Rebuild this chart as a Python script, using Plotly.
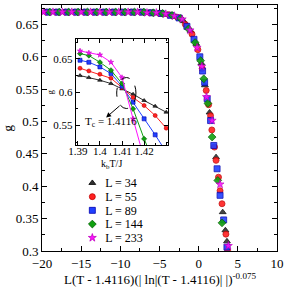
import plotly.graph_objects as go

# ---------------- data ----------------
L_values = [34, 55, 89, 144, 233]
colors = ["#303030", "#ff2020", "#2040ff", "#10a010", "#ff10ff"]
line_cols = ["#000000", "#c00000", "#0000b0", "#006000", "#c000c0"]
symbols = ["triangle-up", "circle", "square", "diamond", "star"]

# main (scaling collapse) data: x = L(T-Tc)(|ln|T-Tc||)^-0.075
x_L34 = [-19.6, -18.4, -17.2, -16.0, -14.8, -13.6, -12.4, -11.2, -10.0, -8.8, -7.6, -6.4, -5.2, -4.0,
         -2.9, -1.9, -1.0, -0.3, 0.35, 0.8, 1.39, 2.22, 3.07, 3.41, 3.61]
g_L34 = [0.669, 0.669, 0.669, 0.669, 0.669, 0.669, 0.669, 0.669, 0.669, 0.669, 0.669, 0.668, 0.667, 0.665,
         0.662, 0.655, 0.640, 0.620, 0.590, 0.556, 0.514, 0.445, 0.360, 0.332, 0.315]

x_L55 = [-19.4, -18.2, -17.0, -15.8, -14.6, -13.4, -12.2, -11.0, -9.8, -8.6, -7.4, -6.2, -5.0, -3.8,
         -2.7, -1.7, -0.85, -0.1, 0.45, 0.96, 1.27, 1.52, 1.68, 2.02, 2.22, 2.53, 2.73, 2.98, 3.48, 3.70]
g_L55 = [0.669, 0.669, 0.669, 0.669, 0.669, 0.669, 0.669, 0.669, 0.669, 0.669, 0.669, 0.668, 0.667, 0.665,
         0.661, 0.650, 0.635, 0.611, 0.582, 0.548, 0.526, 0.509, 0.487, 0.4605, 0.440, 0.414, 0.393, 0.373,
         0.326, 0.3005]

x_L89 = [-19.2, -18.0, -16.8, -15.6, -14.4, -13.2, -12.0, -10.8, -9.6, -8.4, -7.2, -6.0, -4.8, -3.6,
         -2.5, -1.5, -0.6, 0.15, 0.5, 0.76, 1.09, 1.52, 1.93, 2.35, 2.73, 3.19, 3.61]
g_L89 = [0.669, 0.669, 0.669, 0.669, 0.669, 0.669, 0.669, 0.669, 0.669, 0.669, 0.669, 0.668, 0.667, 0.664,
         0.660, 0.647, 0.627, 0.600, 0.578, 0.5605, 0.535, 0.5015, 0.463, 0.427, 0.386, 0.348, 0.306]

x_L144 = [-19.0, -17.8, -16.6, -15.4, -14.2, -13.0, -11.8, -10.6, -9.4, -8.2, -7.0, -5.8, -4.6, -3.4,
          -2.3, -1.3, -0.45, 0.25, 0.65, 1.18, 1.72, 2.44, 2.98]
g_L144 = [0.669, 0.669, 0.669, 0.669, 0.669, 0.669, 0.669, 0.669, 0.669, 0.669, 0.669, 0.668, 0.667, 0.664,
          0.659, 0.643, 0.622, 0.594, 0.566, 0.528, 0.476, 0.409, 0.3435]

x_L233 = [-19.8, -18.6, -17.4, -16.2, -15.0, -13.8, -12.6, -11.4, -10.2, -9.0, -7.8, -6.6, -5.4, -4.2,
          -3.1, -2.1, -1.1, -0.2, 0.4, 1.0, 1.72, 2.73, 3.79]
g_L233 = [0.669, 0.669, 0.669, 0.669, 0.669, 0.669, 0.669, 0.669, 0.669, 0.669, 0.669, 0.668, 0.668, 0.666,
          0.663, 0.658, 0.641, 0.614, 0.585, 0.538, 0.5015, 0.403, 0.308]

# inset: g vs k_B T / J
T_inset = [1.391, 1.395, 1.400, 1.405, 1.410, 1.415, 1.420, 1.425, 1.430]
gi_L34 = [0.625, 0.622, 0.618, 0.613, 0.605, 0.597, 0.5875, 0.579, 0.570]
gi_L55 = [0.636, 0.632, 0.627, 0.621, 0.607, 0.592, 0.580, 0.565, 0.546]
gi_L89 = [0.648, 0.645, 0.638, 0.628, 0.609, 0.585, 0.560, 0.536, 0.510]
gi_L144 = [0.658, 0.655, 0.645, 0.633, 0.613, 0.575, 0.530, 0.490, 0.450]
gi_L233 = [0.662, 0.659, 0.656, 0.645, 0.622, 0.560, 0.500, 0.440, 0.380]

Tc = 1.4116
main_x = [x_L34, x_L55, x_L89, x_L144, x_L233]
main_g = [g_L34, g_L55, g_L89, g_L144, g_L233]
inset_g = [gi_L34, gi_L55, gi_L89, gi_L144, gi_L233]

FONT = "Liberation Serif"

fig = go.Figure()

for i, L in enumerate(L_values):
    fig.add_trace(go.Scatter(
        x=main_x[i], y=main_g[i], mode="markers", name=f"L = {L}", showlegend=False,
        marker=dict(symbol=symbols[i], size=6, color=colors[i], opacity=0.9,
                    line=dict(color=line_cols[i], width=0.8)),
        xaxis="x", yaxis="y"))

for i, L in enumerate(L_values):
    fig.add_trace(go.Scatter(
        x=T_inset, y=inset_g[i], mode="lines+markers", showlegend=False,
        line=dict(color=colors[i], width=1),
        marker=dict(symbol=symbols[i], size=4, color=colors[i],
                    line=dict(color=line_cols[i], width=0.6)),
        xaxis="x2", yaxis="y2"))

# legend keys on a helper categorical axis
legend_labels = [f"L = {L}" for L in L_values]
fig.add_trace(go.Scatter(
    x=[0] * len(L_values), y=legend_labels, mode="markers", showlegend=False,
    marker=dict(symbol=symbols, size=6, color=colors, line=dict(color=line_cols, width=0.8)),
    xaxis="x3", yaxis="y3", hoverinfo="skip"))

axis_common = dict(showline=True, linecolor="black", linewidth=1, mirror="allticks",
                   ticks="inside", tickcolor="black", showgrid=False, zeroline=False)

fig.update_layout(
    width=288, height=287,
    margin=dict(l=42, r=8, t=4, b=36),
    paper_bgcolor="white", plot_bgcolor="white",
    font=dict(family=FONT, color="black", size=13),
    showlegend=False,
    hovermode=False,
    xaxis=dict(range=[-20, 10], tickvals=[-20, -15, -10, -5, 0, 5, 10], ticklen=5,
               minor=dict(dtick=2.5, ticklen=3, ticks="inside", tickcolor="black"),
               tickfont=dict(size=13), domain=[0, 1], anchor="y", **axis_common),
    yaxis=dict(range=[0.3, 0.68], tickvals=[0.3, 0.35, 0.4, 0.45, 0.5, 0.55, 0.6, 0.65],
               ticktext=["0.3", "0.35", "0.4", "0.45", "0.5", "0.55", "0.6", "0.65"], ticklen=5,
               minor=dict(dtick=0.025, ticklen=3, ticks="inside", tickcolor="black"),
               tickfont=dict(size=13), domain=[0, 1], anchor="x", **axis_common),
    xaxis2=dict(range=[1.389, 1.431], tickvals=[1.39, 1.40, 1.41, 1.42],
                ticktext=["1.39", "1.4", "1.41", "1.42"], ticklen=4,
                minor=dict(dtick=0.005, ticklen=2, ticks="inside", tickcolor="black"),
                tickfont=dict(size=11), ticklabelstandoff=-5,
                domain=[0.143, 0.538], anchor="y2", **axis_common),
    yaxis2=dict(range=[0.52, 0.68], tickvals=[0.55, 0.6, 0.65], ticktext=["0.55", "0.6", "0.65"],
                ticklen=4, minor=dict(dtick=0.025, ticklen=2, ticks="inside", tickcolor="black"),
                tickfont=dict(size=11), domain=[0.429, 0.862], anchor="x2", **axis_common),
    xaxis3=dict(range=[-1, 1], domain=[0.172, 0.2563], anchor="y3", visible=False, fixedrange=True),
    yaxis3=dict(type="category", categoryorder="array", categoryarray=legend_labels,
                tickmode="array", tickvals=legend_labels, ticktext=legend_labels,
                range=[len(L_values) - 0.5, -0.5], domain=[0.026, 0.3045], anchor="x3",
                side="right", showline=False, showgrid=False, zeroline=False, ticks="",
                tickfont=dict(size=12), ticklabelstandoff=2),
)

fig.add_shape(type="circle", xref="x2", yref="y2", x0=1.4076, x1=1.4163, y0=0.5755, y1=0.622,
              line=dict(color="black", width=1, dash="dash"))

fig.add_annotation(xref="x2", yref="y2", x=1.4028, y=0.562, ax=1.4096, ay=0.5815,
                   axref="x2", ayref="y2", text="", showarrow=True, arrowhead=2,
                   arrowsize=1, arrowwidth=1, arrowcolor="black")
fig.add_annotation(xref="x2", yref="y2", x=1.405, y=0.5545, text=f"T<sub>c</sub> = {Tc}",
                   showarrow=False, font=dict(size=11), xanchor="center", yanchor="middle")

# titles
fig.add_annotation(xref="paper", yref="paper", x=0.504, y=-0.112,
                   text=f"L(T - {Tc})(| ln|(T - {Tc})| |)<sup>-0.075</sup>",
                   showarrow=False, font=dict(size=13), xanchor="center", yanchor="middle")
fig.add_annotation(xref="paper", yref="paper", x=-0.145, y=0.502, text="g", textangle=-90,
                   showarrow=False, font=dict(size=13), xanchor="center", yanchor="middle")
fig.add_annotation(xref="paper", yref="paper", x=0.0336, y=0.648, text="g", textangle=-90,
                   showarrow=False, font=dict(size=9), xanchor="center", yanchor="middle")
fig.add_annotation(xref="paper", yref="paper", x=0.294, y=0.352, text="k<sub>b</sub>T/J",
                   showarrow=False, font=dict(size=10), xanchor="center", yanchor="middle")

fig.write_html("out.html", config={"displayModeBar": False},
               post_script="document.body.style.margin='0';")
